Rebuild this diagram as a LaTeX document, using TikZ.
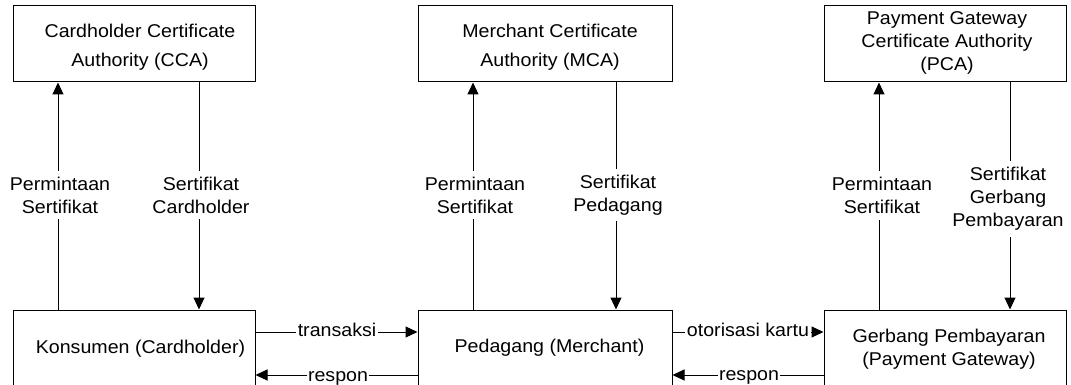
\documentclass[tikz,border=0pt]{standalone}
\usepackage{fontspec}
\setmainfont[FakeStretch=1.06]{Liberation Sans}
\usetikzlibrary{arrows.meta}
\begin{document}
\begin{tikzpicture}[x=1pt,y=-1pt,
  font=\fontsize{18.5}{23}\selectfont,
  box/.style={draw, line width=1pt, rectangle, minimum height=76pt, inner sep=0pt},
  boxtext/.style={align=center, inner sep=0pt},
  flow/.style={line width=1pt, -{Triangle[length=12pt,width=11pt]}},
  vlabel/.style={fill=white, align=center, inner xsep=2pt, inner ysep=6pt},
  hlabel/.style={fill=white, anchor=base, inner xsep=1.5pt, inner ysep=1pt}]
\path[use as bounding box] (0,0) rectangle (1071,385);

% certificate authorities
\node[box, minimum width=242pt] (cca) at (134,44) {};
\node[box, minimum width=254pt] (mca) at (545,44) {};
\node[box, minimum width=242pt] (pca) at (945,44) {};
% parties of the transaction
\node[box, minimum width=242pt] (kon) at (134,348) {};
\node[box, minimum width=254pt] (ped) at (545,348) {};
\node[box, minimum width=242pt] (gw)  at (945,348) {};

% box captions
\node[boxtext] (ccat) at (140,47) {Cardholder Certificate\\[6pt]Authority (CCA)};
\node[boxtext] (mcat) at (550,47) {Merchant Certificate\\[6pt]Authority (MCA)};
\node[boxtext] (pcat) at (947,43.3) {Payment Gateway\\Certificate Authority\\(PCA)};
\node[boxtext, anchor=base] (kont) at (140.5,353) {Konsumen (Cardholder)};
\node[boxtext, anchor=base] (pedt) at (549.5,352.7) {Pedagang (Merchant)};
\node[boxtext] (gwt) at (949,349.4) {Gerbang Pembayaran\\(Payment Gateway)};

% columns of the certificate exchanges
\coordinate (c1) at (58,0);
\coordinate (c2) at (199,0);
\coordinate (m1) at (473,0);
\coordinate (m2) at (616,0);
\coordinate (p1) at (879,0);
\coordinate (p2) at (1010,0);

\draw[flow] (kon.north -| c1) -- (cca.south -| c1);
\draw[flow] (cca.south -| c2) -- (kon.north -| c2);
\draw[flow] (ped.north -| m1) -- (mca.south -| m1);
\draw[flow] (mca.south -| m2) -- (ped.north -| m2);
\draw[flow] (gw.north -| p1) -- (pca.south -| p1);
\draw[flow] (pca.south -| p2) -- (gw.north -| p2);

\node[vlabel] (lreq1) at (60,195) {Permintaan\\Sertifikat};
\node[vlabel] (lcert1) at (201,195) {Sertifikat\\Cardholder};
\node[vlabel] (lreq2) at (475,195) {Permintaan\\Sertifikat};
\node[vlabel] (lcert2) at (618,195) {Sertifikat\\Pedagang};
\node[vlabel] (lreq3) at (882,195.5) {Permintaan\\Sertifikat};
\node[vlabel] (lcert3) at (1008,199) {Sertifikat\\Gerbang\\Pembayaran};

% rows of the payment messages
\coordinate (hy1) at (0,332);
\coordinate (hy2) at (0,375);

\draw[flow] (kon.east |- hy1) -- (ped.west |- hy1);
\draw[flow] (ped.west |- hy2) -- (kon.east |- hy2);
\draw[flow] (ped.east |- hy1) -- (gw.west |- hy1);
\draw[flow] (gw.west |- hy2) -- (ped.east |- hy2);

\node[hlabel] (ltrx) at (337,336) {transaksi};
\node[hlabel] (lrsp1) at (338,381) {respon};
\node[hlabel] (lauth) at (748,336.7) {otorisasi kartu};
\node[hlabel] (lrsp2) at (749,380.5) {respon};
\end{tikzpicture}
\end{document}
